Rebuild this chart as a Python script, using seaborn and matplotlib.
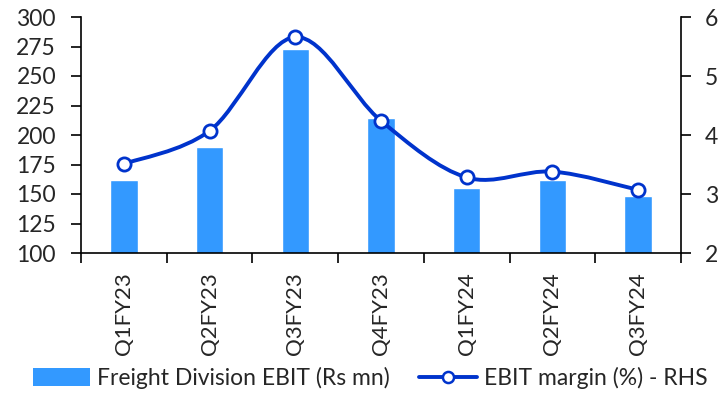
import numpy as np
import pandas as pd
import matplotlib
matplotlib.use("Agg")
import matplotlib.pyplot as plt
import seaborn as sns
from matplotlib.patches import Patch, PathPatch
from matplotlib.lines import Line2D
from matplotlib.path import Path

# Quarterly data
quarters = ["Q1FY23", "Q2FY23", "Q3FY23", "Q4FY23", "Q1FY24", "Q2FY24", "Q3FY24"]
freight_ebit = [162, 190, 273, 214, 155, 162, 148]          # Rs mn (LHS)
ebit_margin = [3.51, 4.07, 5.66, 4.24, 3.28, 3.38, 3.07]    # % (RHS)

BAR_COLOR = "#3399FF"
LINE_COLOR = "#0033CC"

sns.set_theme(style="white")
plt.rcParams["font.family"] = ["Lato", "DejaVu Sans"]
plt.rcParams["font.size"] = 16

fig = plt.figure(figsize=(7.27, 3.94), dpi=100)
ax = fig.add_axes([81 / 727, 1 - 253 / 394, 600 / 727, 236 / 394])

df = pd.DataFrame({"quarter": quarters, "ebit": freight_ebit})
sns.barplot(data=df, x="quarter", y="ebit", color=BAR_COLOR, saturation=1,
            width=0.32, ax=ax)
ax.set_ylim(100, 300)
ax.set_yticks(np.arange(100, 301, 25))
ax.set_xlim(-0.5, len(quarters) - 0.5)
ax.set_xlabel("")
ax.set_ylabel("")

# category boundaries carry the tick marks, centres carry the labels
ax.set_xticks(np.arange(-0.5, len(quarters), 1))
ax.set_xticklabels([])
ax.set_xticks(np.arange(len(quarters)), minor=True)
ax.set_xticklabels(quarters, minor=True, rotation=90)
ax.tick_params(axis="x", which="major", direction="out", length=7, width=1.2,
               color="black", bottom=True)
ax.tick_params(axis="x", which="minor", length=0, pad=14, labelsize=16)
ax.tick_params(axis="y", direction="out", length=7, width=1.2, color="black",
               left=True, pad=11, labelsize=16.5)

for side in ["left", "bottom"]:
    ax.spines[side].set_color("black")
    ax.spines[side].set_linewidth(1.2)
ax.spines["top"].set_visible(False)
ax.spines["right"].set_visible(False)

# RHS: smoothed margin line
ax2 = ax.twinx()
ax2.set_ylim(2, 6)
ax2.set_yticks(np.arange(2, 7, 1))
ax2.tick_params(axis="y", direction="out", length=7, width=1.2, color="black",
                right=True, pad=10, labelsize=16.5)
for side in ["top", "left", "bottom"]:
    ax2.spines[side].set_visible(False)
ax2.spines["right"].set_color("black")
ax2.spines["right"].set_linewidth(1.2)

xs = np.arange(len(quarters), dtype=float)
ys = np.asarray(ebit_margin, dtype=float)
pts = np.column_stack([xs, ys])
ext = np.vstack([pts[0], pts, pts[-1]])
verts = [tuple(pts[0])]
codes = [Path.MOVETO]
for i in range(len(pts) - 1):
    p0, p1, p2, p3 = ext[i], ext[i + 1], ext[i + 2], ext[i + 3]
    c1 = p1 + (p2 - p0) / 6.0
    c2 = p2 - (p3 - p1) / 6.0
    verts += [tuple(c1), tuple(c2), tuple(p2)]
    codes += [Path.CURVE4] * 3
ax2.add_patch(PathPatch(Path(verts, codes), facecolor="none",
                        edgecolor=LINE_COLOR, lw=2.8, capstyle="round",
                        joinstyle="round", zorder=3))
ax2.plot(xs, ys, ls="none", marker="o", ms=9.5, mfc="white", mec=LINE_COLOR,
         mew=2.0, zorder=4)

handles = [
    Patch(facecolor=BAR_COLOR, edgecolor="none"),
    Line2D([], [], color=LINE_COLOR, lw=2.8, marker="o", ms=8, mfc="white",
           mec=LINE_COLOR, mew=1.8),
]
labels = ["Freight Division EBIT (Rs mn)", "EBIT margin (%) - RHS"]
fig.legend(handles, labels, loc="center", bbox_to_anchor=(370 / 727, 16 / 394),
           ncol=2, frameon=False, fontsize=16.5, handlelength=2.5,
           handleheight=0.8, handletextpad=0.3, columnspacing=1.3,
           borderaxespad=0)

fig.savefig("out.png", dpi=100)
